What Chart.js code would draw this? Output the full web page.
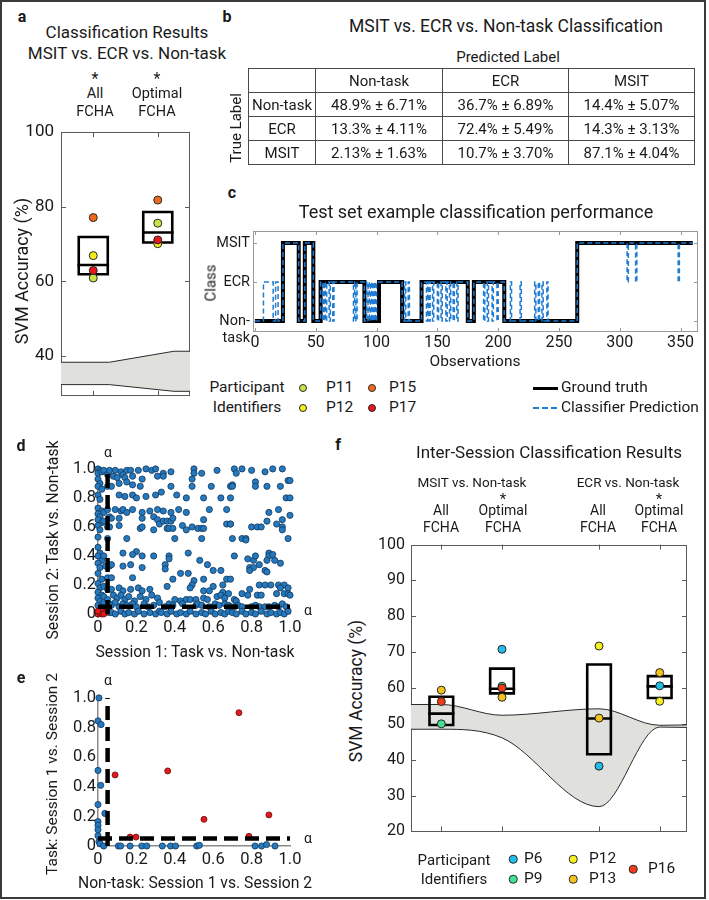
<!DOCTYPE html>
<html>
<head>
<meta charset="utf-8">
<title>Classification results figure</title>
<script src="https://cdn.jsdelivr.net/npm/chart.js@4.4.1/dist/chart.umd.min.js"></script>
<style>
html,body{margin:0;padding:0;background:#fff;}
#fig{position:relative;width:709px;height:900px;overflow:hidden;font-family:Roboto,"Liberation Sans",Arial,sans-serif;color:#1a1a1a;}
#border{position:absolute;left:0;top:0;width:706px;height:899px;box-sizing:border-box;border:2px solid #3a3a3a;pointer-events:none;}
.tx{position:absolute;white-space:nowrap;line-height:1;transform:translate(-50%,-50%);}
.dot{position:absolute;border-radius:50%;box-sizing:border-box;border:1px solid #2a2a2a;transform:translate(-50%,-50%);}
.ln{position:absolute;}
canvas{position:absolute;}
#cm{position:absolute;left:248px;top:68px;width:446px;border-collapse:collapse;table-layout:fixed;font-size:15px;}
#cm td{border:1px solid #4a4a4a;height:23px;padding:0;text-align:center;white-space:nowrap;}
</style>
</head>
<body>
<div id="fig"><div id="border"></div></div>
<script>
// ================= DATA =================
// Panel a: MSIT vs ECR vs Non-task accuracy
const aGroupLabels = ['All FCHA', 'Optimal FCHA'];
const aXPos = [1, 2];
const aYTicks = [40, 60, 80, 100];
const aBoxQ1 = [61.9, 70.4];
const aBoxMedian = [64.4, 73.1];
const aBoxQ3 = [71.9, 78.6];
const aP11 = [60.9, 75.6];
const aP12 = [66.9, 70.1];
const aP15 = [77.1, 81.8];
const aP17 = [62.9, 71.1];
const aChanceX = [0.5, 1.25, 2.25, 2.5];
const aChanceHigh = [38.3, 38.3, 41.25, 41.25];
const aChanceLow = [32.3, 32.3, 30.5, 30.5];

// Panel b: confusion matrix
const cmClasses = ['Non-task', 'ECR', 'MSIT'];
const cmMeanNonTask = [48.9, 36.7, 14.4];
const cmMeanECR = [13.3, 72.4, 14.3];
const cmMeanMSIT = [2.13, 10.7, 87.1];
const cmSdNonTask = [6.71, 6.89, 5.07];
const cmSdECR = [4.11, 5.49, 3.13];
const cmSdMSIT = [1.63, 3.70, 4.04];

// Panel c: test-set time course (segment start observation, class index)
const classLabels = [['', 'Non-', 'task'], 'ECR', 'MSIT'];
const cXTicks = [0, 50, 100, 150, 200, 250, 300, 350];
const cYTicks = [0, 1, 2];
const obsEnd = 360;
const gtStart = [0, 23, 36, 41, 48, 54, 90, 102, 121, 137, 175, 180, 205, 265];
const gtClass = [0, 2, 0, 2, 0, 1, 0, 1, 0, 1, 0, 1, 0, 2];
const predStart = [0,7,15,17,19,23,36,41,48,54,56,57,58,59,61,62,64,65,81,82,83,84,90,92,93,94,95,96,97,98,99,100,121,123,124,126,127,137,141,142,143,144,146,147,150,151,153,154,157,158,160,161,163,164,166,167,175,180,188,189,191,192,195,196,199,200,205,210,211,218,219,230,231,233,234,236,237,240,241,265,306,307,313,314,348,349];
const predClass = [0,1,0,1,0,2,0,2,0,1,0,1,0,1,0,1,0,1,0,1,0,1,0,1,0,1,0,1,0,1,0,1,0,1,0,1,0,1,0,1,0,1,0,1,0,1,0,1,0,1,0,1,0,1,0,1,0,1,0,1,0,1,0,1,0,1,0,1,0,1,0,1,0,1,0,1,0,1,0,2,1,2,1,2,1,2];

// Panels d, e: p-value scatter
const unitTicks = [0, 0.2, 0.4, 0.6, 0.8, 1.0];
const alphaLevel = 0.05;
const dBlue = [
[0.00,1.00],[0.01,0.99],[0.00,0.97],[0.02,0.98],[0.00,0.93],[0.01,0.90],[0.00,0.88],[0.02,0.86],[0.00,0.82],[0.01,0.79],
[0.00,0.73],[0.02,0.71],[0.00,0.69],[0.01,0.67],[0.00,0.65],[0.02,0.63],[0.00,0.61],[0.01,0.58],[0.00,0.53],[0.00,0.46],
[0.01,0.42],[0.00,0.40],[0.02,0.37],[0.00,0.35],[0.01,0.32],[0.00,0.28],[0.02,0.24],[0.00,0.21],[0.01,0.18],[0.00,0.15],
[0.02,0.13],[0.00,0.11],[0.01,0.09],[0.00,0.06],[0.02,0.04],[0.01,0.02],[0.00,0.00],[0.03,0.99],[0.03,0.70],[0.03,0.64],
[0.03,0.40],[0.03,0.19],[0.03,0.12],[0.03,0.08],
[0.05,0.96],[0.05,0.88],[0.05,0.72],[0.06,0.67],[0.05,0.60],[0.05,0.52],[0.06,0.33],[0.05,0.25],[0.05,0.17],[0.05,0.10],[0.06,0.07],[0.04,0.03],[0.06,0.01],
[0.06,0.99],[0.09,0.99],[0.12,0.98],[0.15,0.99],[0.17,0.99],[0.21,0.99],[0.25,1.00],[0.28,0.99],[0.30,1.00],
[0.08,0.95],[0.10,0.94],[0.13,0.96],[0.14,0.94],[0.18,0.95],[0.23,0.93],[0.31,0.95],
[0.11,0.90],[0.15,0.91],[0.18,0.89],[0.22,0.88],[0.07,0.88],
[0.11,0.82],[0.14,0.81],[0.18,0.82],[0.20,0.80],[0.25,0.81],[0.30,0.82],
[0.09,0.72],[0.12,0.71],[0.13,0.72],[0.15,0.70],[0.18,0.72],[0.23,0.70],[0.27,0.71],[0.31,0.72],
[0.07,0.66],[0.11,0.66],[0.23,0.66],[0.29,0.67],[0.31,0.65],
[0.06,0.60],[0.11,0.61],[0.22,0.59],[0.23,0.60],[0.29,0.58],[0.32,0.62],
[0.15,0.52],[0.13,0.42],[0.20,0.43],[0.23,0.40],[0.18,0.41],[0.29,0.40],
[0.04,0.33],[0.07,0.34],[0.13,0.33],[0.17,0.34],[0.23,0.32],[0.07,0.25],[0.18,0.25],
[0.07,0.17],[0.11,0.18],[0.13,0.16],[0.17,0.17],[0.21,0.18],[0.23,0.16],[0.27,0.17],
[0.08,0.13],[0.10,0.11],[0.12,0.13],[0.14,0.10],[0.16,0.12],[0.19,0.09],[0.22,0.12],[0.25,0.10],[0.28,0.13],[0.31,0.11],
[0.07,0.06],[0.09,0.08],[0.11,0.05],[0.13,0.07],[0.15,0.06],[0.18,0.07],[0.20,0.05],[0.24,0.07],[0.26,0.05],[0.29,0.06],[0.32,0.08],
[0.07,0.01],[0.09,0.00],[0.12,0.02],[0.14,0.00],[0.16,0.01],[0.19,0.00],[0.21,0.02],[0.24,0.00],[0.27,0.01],[0.30,0.00],[0.32,0.02],
[0.34,0.97],[0.34,0.95],[0.38,0.98],[0.50,1.00],[0.50,0.97],[0.49,0.93],[0.54,0.97],[0.62,0.99],
[0.38,0.88],[0.49,0.88],[0.59,0.88],[0.69,0.88],[0.33,0.84],[0.41,0.82],[0.46,0.80],[0.55,0.80],[0.64,0.80],
[0.34,0.71],[0.38,0.70],[0.42,0.72],[0.46,0.70],[0.58,0.72],[0.67,0.72],
[0.34,0.64],[0.36,0.64],[0.38,0.64],[0.39,0.66],[0.55,0.65],
[0.36,0.59],[0.37,0.59],[0.39,0.59],[0.44,0.61],[0.46,0.58],[0.49,0.60],[0.52,0.59],[0.54,0.59],[0.55,0.59],[0.67,0.62],[0.69,0.62],
[0.40,0.52],[0.54,0.52],[0.47,0.42],[0.37,0.40],[0.37,0.38],[0.53,0.37],
[0.35,0.34],[0.35,0.31],[0.57,0.34],[0.60,0.30],[0.64,0.30],[0.43,0.28],[0.47,0.28],
[0.39,0.24],[0.50,0.23],[0.49,0.20],[0.48,0.18],[0.55,0.24],[0.67,0.24],
[0.36,0.19],[0.60,0.19],[0.65,0.20],[0.55,0.16],[0.58,0.16],[0.65,0.15],
[0.40,0.10],[0.43,0.09],[0.46,0.10],[0.48,0.10],[0.51,0.10],[0.55,0.11],[0.57,0.10],[0.62,0.12],[0.64,0.13],[0.68,0.14],[0.66,0.11],
[0.35,0.05],[0.37,0.07],[0.39,0.06],[0.44,0.07],[0.51,0.06],[0.52,0.07],[0.54,0.06],[0.58,0.05],[0.61,0.07],[0.63,0.06],[0.66,0.07],[0.68,0.06],
[0.33,0.01],[0.36,0.00],[0.38,0.02],[0.41,0.00],[0.43,0.01],[0.46,0.00],[0.48,0.02],[0.51,0.00],[0.54,0.01],[0.56,0.00],[0.59,0.02],[0.61,0.00],[0.64,0.01],[0.66,0.00],[0.68,0.02],
[0.71,1.00],[0.72,0.97],[0.75,1.00],[0.80,0.99],[0.87,0.98],[0.91,1.00],[0.96,1.00],
[0.82,0.91],[0.82,0.88],[0.70,0.89],[0.70,0.88],[0.88,0.88],[0.95,0.88],[0.99,0.92],[1.00,0.92],
[0.69,0.80],[0.98,0.80],[1.00,0.80],
[0.89,0.70],[0.94,0.72],[1.00,0.68],[0.96,0.65],[0.88,0.64],[0.93,0.62],[0.96,0.60],[0.96,0.58],[0.69,0.62],[0.80,0.60],[0.83,0.60],[0.85,0.60],
[0.70,0.52],[0.75,0.52],[0.77,0.52],[0.77,0.51],[0.99,0.52],
[0.71,0.40],[0.78,0.38],[0.81,0.37],[0.82,0.40],[0.89,0.42],[0.89,0.40],[0.91,0.41],[0.88,0.37],[0.92,0.37],[0.95,0.35],[0.84,0.34],[0.79,0.32],[0.81,0.32],[0.79,0.30],[0.87,0.30],[0.88,0.29],
[0.69,0.24],[0.84,0.20],[0.87,0.20],[0.90,0.20],[0.94,0.20],[0.97,0.20],[0.95,0.18],[0.99,0.18],
[0.79,0.17],[0.75,0.14],[0.78,0.13],[0.83,0.13],[0.85,0.13],[0.93,0.14],[0.97,0.14],[0.99,0.14],[1.00,0.13],
[0.71,0.10],[0.72,0.09],
[0.69,0.05],[0.71,0.05],[0.73,0.06],[0.75,0.05],[0.80,0.05],[0.82,0.06],[0.84,0.05],[0.87,0.05],[0.89,0.05],[0.92,0.06],[0.94,0.05],[0.96,0.07],[0.98,0.05],
[0.70,0.01],[0.72,0.00],[0.75,0.02],[0.77,0.00],[0.80,0.01],[0.82,0.00],[0.85,0.02],[0.88,0.00],[0.90,0.01],[0.93,0.00],[0.95,0.01],[0.97,0.00],[0.99,0.02]
];
const dRed = [[0.00,0.00],[0.01,0.01],[0.02,0.00],[0.03,0.02],[0.01,0.03],[0.02,0.02],[0.04,0.01],[0.00,0.02],[0.03,0.00]];
const eBlue = [[0.005,1.0],[0.0,0.845],[0.016,0.82],[0.0,0.51],[0.014,0.41],[0.0,0.28],[0.036,0.22],[0.0,0.165],[0.0,0.14],[0.0,0.11],[0.0,0.07],[0.005,0.03],[0.01,0.015],[0.03,0.0],[0.106,0.0],[0.118,0.0],[0.167,0.0],[0.228,0.0],[0.254,0.0],[0.335,0.0],[0.378,0.0],[0.404,0.0],[0.514,0.0],[0.528,0.005],[0.818,0.0],[0.852,0.0],[0.878,0.01],[0.922,0.0]];
const eRed = [[0.089,0.48],[0.363,0.507],[0.552,0.18],[0.734,0.90],[0.89,0.21],[0.167,0.06],[0.198,0.06],[0.786,0.065]];

// Panel f: inter-session accuracy
const fGroupLabels = ['MSIT All FCHA', 'MSIT Optimal FCHA', 'ECR All FCHA', 'ECR Optimal FCHA'];
const fXPos = [1, 2, 3.6, 4.6];
const fYTicks = [20, 30, 40, 50, 60, 70, 80, 90, 100];
const fBoxQ1 = [49.7, 58.5, 41.5, 57.2];
const fBoxMedian = [52.85, 59.8, 51.5, 60.45];
const fBoxQ3 = [57.56, 65.4, 66.55, 63.3];
const fP6 = [null, 70.8, 38.2, 60.6];
const fP9 = [50.0, 60.5, null, null];
const fP12 = [null, null, 71.7, 56.3];
const fP13 = [59.4, 57.4, 51.6, 64.3];
const fP16 = [56.2, 60.0, null, null];
const fChanceX = [0.5, 1.0, 2.0, 3.6, 4.6, 5.05];
const fChanceHigh = [55.4, 55.4, 52.4, 54.2, 49.6, 49.7];
const fChanceLow = [48.5, 48.5, 46.1, 26.9, 49.1, 49.0];

// ================= STYLE / HELPERS =================
const COL = {P11:'#c6e443', P12a:'#f4ec1c', P15:'#f0691e', P17:'#e8151b',
  P6:'#22bde8', P9:'#45df93', P12:'#f6ef22', P13:'#f4c21c', P16:'#ef3b1a',
  blue:'#2479bf', blueEdge:'#14385c', red:'#e3191c', redEdge:'#6a0a0a', band:'#e0e0dc'};
Chart.defaults.font.family = 'Roboto, "Liberation Sans", Arial, sans-serif';
Chart.defaults.color = '#1a1a1a';
const fig = document.getElementById('fig');

function T(s, x, y, size, o = {}) {
  const d = document.createElement('div');
  d.className = 'tx'; d.textContent = s;
  d.style.left = x + 'px'; d.style.top = y + 'px'; d.style.fontSize = size + 'px';
  if (o.bold) d.style.fontWeight = 'bold';
  if (o.rot) d.style.transform = 'translate(-50%,-50%) rotate(-90deg)';
  if (o.left) d.style.transform = 'translate(0,-50%)';
  fig.appendChild(d);
}
function dot(x, y, dia, color) {
  const d = document.createElement('div');
  d.className = 'dot';
  Object.assign(d.style, {left: x + 'px', top: y + 'px', width: dia + 'px', height: dia + 'px', background: color});
  fig.appendChild(d);
}
function lineSample(x, y, w, css) {
  const d = document.createElement('div');
  d.className = 'ln';
  Object.assign(d.style, {left: x + 'px', top: y + 'px', width: w + 'px'}, css);
  fig.appendChild(d);
}

const framePlugin = {
  id: 'frame',
  beforeDatasetsDraw(chart, args, o) {
    if (!o || !o.on) return;
    const ctx = chart.ctx, a = chart.chartArea, x = chart.scales.x, y = chart.scales.y;
    ctx.save();
    ctx.strokeStyle = o.color; ctx.lineWidth = 1;
    if (o.box) ctx.strokeRect(Math.round(a.left) + 0.5, Math.round(a.top) + 0.5, Math.round(a.right - a.left) - 1, Math.round(a.bottom - a.top) - 1);
    const L = o.len || 5;
    ctx.beginPath();
    if (o.xt) x.ticks.forEach(t => { const p = Math.round(x.getPixelForValue(t.value)) + 0.5;
      ctx.moveTo(p, a.bottom); ctx.lineTo(p, a.bottom - L); ctx.moveTo(p, a.top); ctx.lineTo(p, a.top + L); });
    if (o.yt) y.ticks.forEach(t => { const p = Math.round(y.getPixelForValue(t.value)) + 0.5;
      ctx.moveTo(a.left, p); ctx.lineTo(a.left + L, p); ctx.moveTo(a.right, p); ctx.lineTo(a.right - L, p); });
    ctx.stroke(); ctx.restore();
  }
};
Chart.register(framePlugin);

function mk(plot, pad, cfg) {
  const c = document.createElement('canvas');
  const W = plot.r - plot.l + pad.l + pad.r, H = plot.b - plot.t + pad.t + pad.b;
  c.width = W; c.height = H;
  Object.assign(c.style, {left: (plot.l - pad.l) + 'px', top: (plot.t - pad.t) + 'px', width: W + 'px', height: H + 'px'});
  fig.appendChild(c);
  const o = cfg.options;
  Object.assign(o, {responsive: false, maintainAspectRatio: false, animation: false, devicePixelRatio: 1, events: []});
  o.layout = {padding: {left: 0, top: pad.t, right: pad.r, bottom: 0}};
  o.plugins = Object.assign({legend: {display: false}, tooltip: {enabled: false}}, o.plugins || {});
  o.scales.x.afterFit = s => { s.height = pad.b; };
  o.scales.y.afterFit = s => { s.width = pad.l; };
  return new Chart(c, cfg);
}
const setTicks = arr => s => { s.ticks = arr.map(v => ({value: v})); };
const noGrid = {display: false, drawTicks: false};
const xy = (xs, ys) => xs.map((x, i) => ({x, y: ys[i]})).filter(p => p.y !== null);
const pairs = arr => arr.map(p => ({x: p[0], y: p[1]}));
function boxOutline(xs, q1, q3, hw) {
  const out = [];
  xs.forEach((x, i) => out.push({x: x - hw, y: q1[i]}, {x: x - hw, y: q3[i]}, {x: x + hw, y: q3[i]}, {x: x + hw, y: q1[i]}, {x: x - hw, y: q1[i]}, {x: x, y: null}));
  return out;
}
function medianLines(xs, med, hw) {
  const out = [];
  xs.forEach((x, i) => out.push({x: x - hw, y: med[i]}, {x: x + hw, y: med[i]}, {x: x, y: null}));
  return out;
}
function stepPts(starts, classes, end) {
  const out = starts.map((s, i) => ({x: s, y: classes[i]}));
  out.push({x: end, y: classes[classes.length - 1]});
  return out;
}
const ptsDs = (data, color, r, order) => ({data, showLine: false, pointRadius: r, pointBackgroundColor: color, pointBorderColor: '#262626', pointBorderWidth: 1, order, clip: false});
const lineDs = (data, color, w, order, extra = {}) => Object.assign({data, borderColor: color, borderWidth: w, pointRadius: 0, order, fill: false, clip: false}, extra);

// ================= PANEL a =================
const A_HW = 0.225;
mk({l: 61, t: 125, r: 190, b: 409}, {l: 40, t: 10, r: 6, b: 4}, {
  type: 'line',
  data: {datasets: [
    ptsDs(xy(aXPos, aP17), COL.P17, 4, 0),
    ptsDs(xy(aXPos, aP11), COL.P11, 4, 1),
    ptsDs(xy(aXPos, aP12), COL.P12a, 4, 2),
    ptsDs(xy(aXPos, aP15), COL.P15, 4, 3),
    lineDs(boxOutline(aXPos, aBoxQ1, aBoxQ3, A_HW), '#000', 2.6, 4, {borderCapStyle: 'square', borderJoinStyle: 'miter'}),
    lineDs(medianLines(aXPos, aBoxMedian, A_HW), '#000', 2.6, 4, {borderCapStyle: 'square'}),
    lineDs(xy(aChanceX, aChanceHigh), '#2a2a2a', 1, 6, {fill: '+1', backgroundColor: COL.band}),
    lineDs(xy(aChanceX, aChanceLow), '#2a2a2a', 1, 5)
  ]},
  options: {scales: {
    x: {type: 'linear', min: 0.5, max: 2.5, afterBuildTicks: setTicks(aXPos), ticks: {display: false}, grid: noGrid, border: {display: false}},
    y: {type: 'linear', min: 29.3, max: 100, afterBuildTicks: setTicks(aYTicks), ticks: {font: {size: 17}, padding: 7, autoSkip: false}, grid: noGrid, border: {display: false}}
  }, plugins: {frame: {on: true, box: true, color: '#5a5a5a', xt: true, yt: true, len: 5}}}
});
T('a', 22, 17, 16, {bold: true});
T('Classification Results', 127, 32, 17);
T('MSIT vs. ECR vs. Non-task', 127, 53, 17);
T('*', 95, 79, 16); T('All', 95, 94, 14.5); T('FCHA', 95, 112, 14.5);
T('*', 157, 79, 16); T('Optimal', 157, 94, 14.5); T('FCHA', 157, 112, 14.5);
T('SVM Accuracy (%)', 22, 271, 18, {rot: true});
// legend a
T('Participant', 247, 388, 15.5); T('Identifiers', 247, 408, 15.5);
dot(303, 388, 8, COL.P11); T('P11', 326, 388, 15.5, {left: true});
dot(303, 408, 8, COL.P12a); T('P12', 326, 408, 15.5, {left: true});
dot(372, 388, 8, COL.P15); T('P15', 389, 388, 15.5, {left: true});
dot(372, 408, 8, COL.P17); T('P17', 389, 408, 15.5, {left: true});

// ================= PANEL b =================
T('b', 227, 17, 16, {bold: true});
T('MSIT vs. ECR vs. Non-task Classification', 506, 27, 17.5);
T('Predicted Label', 508, 57, 15);
T('True Label', 236, 128, 15, {rot: true});
(function () {
  const tbl = document.createElement('table');
  tbl.id = 'cm';
  const cg = document.createElement('colgroup');
  [67, 127, 126, 126].forEach(w => { const c = document.createElement('col'); c.style.width = w + 'px'; cg.appendChild(c); });
  tbl.appendChild(cg);
  const head = document.createElement('tr');
  ['', ...cmClasses].forEach(h => { const td = document.createElement('td'); td.textContent = h; head.appendChild(td); });
  tbl.appendChild(head);
  const means = [cmMeanNonTask, cmMeanECR, cmMeanMSIT], sds = [cmSdNonTask, cmSdECR, cmSdMSIT];
  cmClasses.forEach((cls, r) => {
    const tr = document.createElement('tr');
    const th = document.createElement('td'); th.textContent = cls; tr.appendChild(th);
    means[r].forEach((m, c) => { const td = document.createElement('td'); td.textContent = m.toPrecision(3) + '% \u00b1 ' + sds[r][c].toPrecision(3) + '%'; tr.appendChild(td); });
    tbl.appendChild(tr);
  });
  fig.appendChild(tbl);
})();

// ================= PANEL c =================
mk({l: 253, t: 231, r: 698, b: 332}, {l: 50, t: 12, r: 8, b: 32}, {
  type: 'line',
  data: {datasets: [
    lineDs(stepPts(predStart, predClass, obsEnd), '#1f7bd0', 1.5, 0, {borderDash: [5, 3], stepped: 'before'}),
    lineDs(stepPts(gtStart, gtClass, obsEnd), '#000', 4, 1, {stepped: 'before', borderJoinStyle: 'miter'})
  ]},
  options: {scales: {
    x: {type: 'linear', min: -1.6, max: 364.3, afterBuildTicks: setTicks(cXTicks), ticks: {font: {size: 16}, padding: 1, autoSkip: false, maxRotation: 0}, grid: noGrid, border: {display: false}},
    y: {type: 'linear', min: -0.28, max: 2.31, afterBuildTicks: setTicks(cYTicks), ticks: {font: {size: 14.5}, padding: 3, autoSkip: false, callback: v => classLabels[v]}, grid: noGrid, border: {display: false}}
  }, plugins: {frame: {on: true, box: true, color: '#9a9a9a', xt: true, yt: true, len: 4}}}
});
T('c', 232, 193, 16, {bold: true});
T('Test set example classification performance', 476, 212, 18);
T('Class', 211, 283, 15, {rot: true});
T('Observations', 475, 362, 15.5);
lineSample(533, 387, 25, {height: '3px', background: '#000'});
T('Ground truth', 561, 388, 15.5, {left: true});
lineSample(533, 407, 25, {height: '2px', background: 'repeating-linear-gradient(90deg,#1f7bd0 0 6px,transparent 6px 9px)'});
T('Classifier Prediction', 561, 408, 15.5, {left: true});

// ================= PANELS d & e =================
const fmt01 = v => v === 0 ? '0' : v.toFixed(1);
function pScatter(plot, blue, red) {
  return mk(plot, {l: 35, t: 10, r: 20, b: 24}, {
    type: 'line',
    data: {datasets: [
      lineDs([{x: alphaLevel, y: 0}, {x: alphaLevel, y: unitTicks[unitTicks.length - 1]}], '#000', 4.5, 0, {borderDash: [14, 7]}),
      lineDs([{x: 0, y: alphaLevel}, {x: unitTicks[unitTicks.length - 1], y: alphaLevel}], '#000', 4.5, 0, {borderDash: [14, 7]}),
      {data: pairs(red), showLine: false, pointRadius: 3, pointBackgroundColor: COL.red, pointBorderColor: COL.redEdge, pointBorderWidth: 0.8, order: 1, clip: false},
      {data: pairs(blue), showLine: false, pointRadius: 3.1, pointBackgroundColor: COL.blue, pointBorderColor: COL.blueEdge, pointBorderWidth: 0.8, order: 2, clip: false}
    ]},
    options: {scales: {
      x: {type: 'linear', min: 0, max: 1, afterBuildTicks: setTicks(unitTicks), ticks: {font: {size: 16.5}, padding: 4, autoSkip: false, maxRotation: 0, callback: fmt01}, grid: noGrid, border: {display: true, color: '#8a8a8a', width: 1.5}},
      y: {type: 'linear', min: 0, max: 1, afterBuildTicks: setTicks(unitTicks), ticks: {font: {size: 16.5}, padding: 2, autoSkip: false, callback: fmt01}, grid: noGrid, border: {display: true, color: '#8a8a8a', width: 1.5}}
    }}
  });
}
pScatter({l: 98, t: 467, r: 290, b: 614}, dBlue, dRed);
T('d', 21, 446, 16, {bold: true});
T('\u03b1', 108, 452, 14); T('\u03b1', 308, 610, 14);
T('Session 2: Task vs. Non-task', 53, 540, 15.7, {rot: true});
T('Session 1: Task vs. Non-task', 195, 652, 15.7);

pScatter({l: 98, t: 696, r: 290, b: 846}, eBlue, eRed);
T('e', 21, 678, 16, {bold: true});
T('\u03b1', 108, 680, 14); T('\u03b1', 308, 838, 14);
T('Task: Session 1 vs. Session 2', 53, 774, 15.5, {rot: true});
T('Non-task: Session 1 vs. Session 2', 195, 883, 15.7);

// ================= PANEL f =================
const F_HW = 0.195;
mk({l: 411, t: 537, r: 687, b: 843}, {l: 40, t: 8, r: 6, b: 4}, {
  type: 'line',
  data: {datasets: [
    ptsDs(xy(fXPos, fP16), COL.P16, 4, 0),
    ptsDs(xy(fXPos, fP6), COL.P6, 4, 1),
    ptsDs(xy(fXPos, fP13), COL.P13, 4, 2),
    ptsDs(xy(fXPos, fP12), COL.P12, 4, 3),
    ptsDs(xy(fXPos, fP9), COL.P9, 4, 4),
    lineDs(boxOutline(fXPos, fBoxQ1, fBoxQ3, F_HW), '#000', 2.6, 5, {borderCapStyle: 'square', borderJoinStyle: 'miter'}),
    lineDs(medianLines(fXPos, fBoxMedian, F_HW), '#000', 2.6, 5, {borderCapStyle: 'square'}),
    lineDs(xy(fChanceX, fChanceHigh), '#2a2a2a', 1, 7, {fill: '+1', backgroundColor: COL.band, cubicInterpolationMode: 'monotone'}),
    lineDs(xy(fChanceX, fChanceLow), '#2a2a2a', 1, 6, {cubicInterpolationMode: 'monotone'})
  ]},
  options: {scales: {
    x: {type: 'linear', min: 0.5, max: 5.05, afterBuildTicks: setTicks(fXPos), ticks: {display: false}, grid: noGrid, border: {display: false}},
    y: {type: 'linear', min: 20, max: 100, afterBuildTicks: setTicks(fYTicks), ticks: {font: {size: 16}, padding: 6, autoSkip: false}, grid: noGrid, border: {display: false}}
  }, plugins: {frame: {on: true, box: true, color: '#5a5a5a', xt: true, yt: true, len: 5}}}
});
T('f', 338, 445, 16, {bold: true});
T('Inter-Session Classification Results', 549, 452, 17);
T('MSIT vs. Non-task', 472, 483, 13.5);
T('ECR vs. Non-task', 628, 483, 13.5);
T('*', 503, 499, 15); T('*', 659, 499, 15);
T('All', 441, 510, 14); T('FCHA', 441, 527, 14);
T('Optimal', 503, 510, 14); T('FCHA', 503, 527, 14);
T('All', 598, 510, 14); T('FCHA', 598, 527, 14);
T('Optimal', 659, 510, 14); T('FCHA', 659, 527, 14);
T('SVM Accuracy (%)', 357, 691, 17.5, {rot: true});
// legend f
T('Participant', 454, 860, 15); T('Identifiers', 454, 879, 15);
dot(513, 859, 8.5, COL.P6); T('P6', 524, 859, 15.5, {left: true});
dot(513, 879, 8.5, COL.P9); T('P9', 524, 879, 15.5, {left: true});
dot(573, 859, 8.5, COL.P12); T('P12', 589, 859, 15.5, {left: true});
dot(573, 879, 8.5, COL.P13); T('P13', 589, 879, 15.5, {left: true});
dot(633, 869, 8.5, COL.P16); T('P16', 648, 869, 15.5, {left: true});
</script>
</body>
</html>
